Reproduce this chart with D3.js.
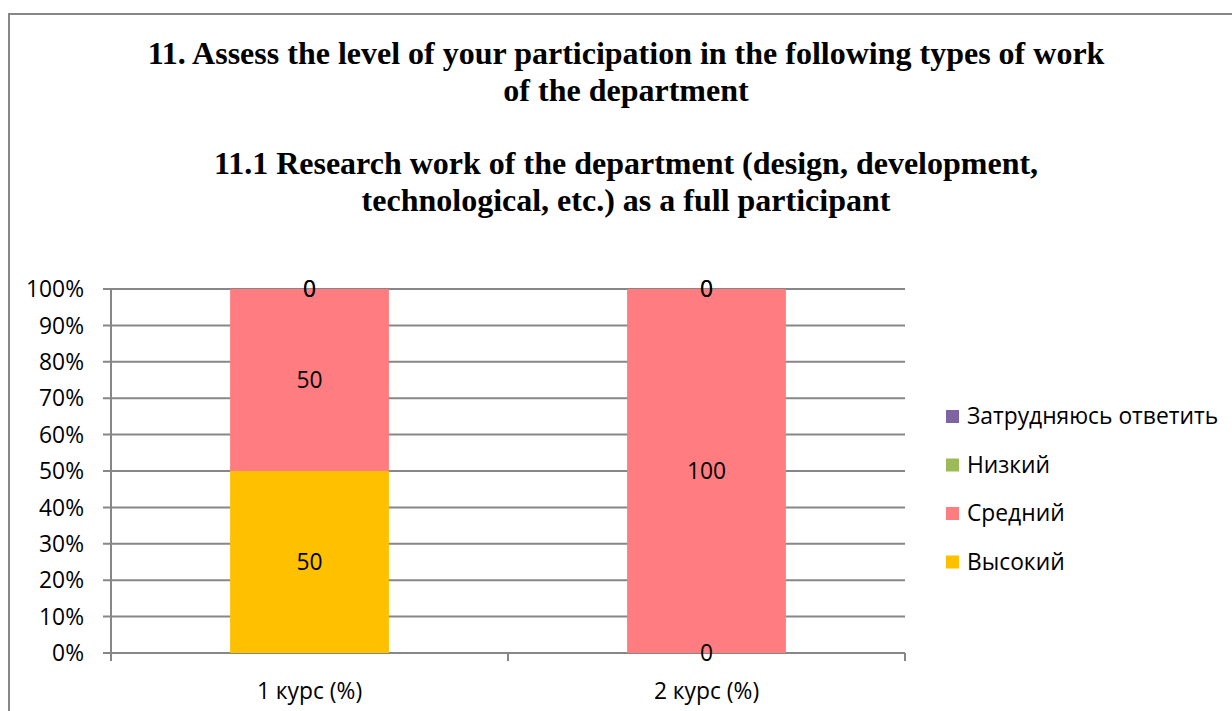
<!DOCTYPE html>
<html>
<head>
<meta charset="utf-8">
<script src="https://cdn.jsdelivr.net/npm/d3@7"></script>
<style>
  body { margin: 0; background: #fff; }
  svg { display: block; }
</style>
</head>
<body>
<svg id="chart" width="1232" height="711"></svg>
<script>
var categories = ["1 курс (%)", "2 курс (%)"];
var seriesNames = ["Высокий", "Средний", "Низкий", "Затрудняюсь ответить"];
var seriesColors = ["#FFC000", "#FF7C80", "#9BBB59", "#8064A2"];
var values = [
  [50, 0],   // Высокий
  [50, 100], // Средний
  [0, 0],    // Низкий
  [0, 0]     // Затрудняюсь ответить
];
var yTicks = [0, 0.1, 0.2, 0.3, 0.4, 0.5, 0.6, 0.7, 0.8, 0.9, 1];
var titleLines = [
  "11. Assess the level of your participation in the following types of work",
  "of the department",
  "",
  "11.1 Research work of the department (design, development,",
  "technological, etc.) as a full participant"
];

var svg = d3.select("#chart");
var width = 1232, height = 711;
var margin = { top: 289, right: 327, bottom: 58, left: 111 };
var plotW = width - margin.left - margin.right;
var plotH = height - margin.top - margin.bottom;
var labelFont = "'Open Sans', 'Noto Sans', sans-serif";
var labelSize = "22.8px";

// outer chart border (runs off the right and bottom edges)
svg.append("rect")
    .attr("x", 9).attr("y", 14)
    .attr("width", 1240).attr("height", 720)
    .attr("fill", "#fff")
    .attr("stroke", "#878787")
    .attr("stroke-width", 2);

// title
svg.append("g").selectAll("text")
    .data(titleLines)
    .enter().append("text")
    .attr("x", 626)
    .attr("y", function(d, i) { return 64 + i * 36.8; })
    .attr("text-anchor", "middle")
    .style("font-family", "'Liberation Serif', 'Times New Roman', serif")
    .style("font-weight", "bold")
    .style("font-size", "32px")
    .text(function(d) { return d; });

var g = svg.append("g").attr("transform", "translate(" + margin.left + "," + margin.top + ")");

var x = d3.scaleBand().domain(categories).range([0, plotW]).paddingInner(0.6).paddingOuter(0.3);
var y = d3.scaleLinear().domain([0, 1]).range([plotH, 0]);

// gridlines + y ticks
g.append("g").selectAll("line")
    .data(yTicks)
    .enter().append("line")
    .attr("x1", -8).attr("x2", plotW)
    .attr("y1", function(d) { return y(d); })
    .attr("y2", function(d) { return y(d); })
    .attr("stroke", "#878787")
    .attr("stroke-width", 2);

// stacked data
var stackData = categories.map(function(c, j) {
  var o = { cat: c };
  seriesNames.forEach(function(s, i) { o[s] = values[i][j]; });
  return o;
});
var stack = d3.stack().keys(seriesNames).offset(d3.stackOffsetExpand);
var layers = stack(stackData);

var layer = g.selectAll(".layer")
    .data(layers)
    .enter().append("g")
    .attr("class", "layer")
    .attr("fill", function(d, i) { return seriesColors[i]; });

layer.selectAll("rect")
    .data(function(d) { return d; })
    .enter().append("rect")
    .attr("x", function(d) { return x(d.data.cat); })
    .attr("width", x.bandwidth())
    .attr("y", function(d) { return y(d[1]); })
    .attr("height", function(d) { return y(d[0]) - y(d[1]); });

// y axis line
g.append("line")
    .attr("x1", 0).attr("x2", 0)
    .attr("y1", 0).attr("y2", plotH + 8)
    .attr("stroke", "#878787").attr("stroke-width", 2);

// x axis ticks at category boundaries
var step = plotW / categories.length;
g.append("g").selectAll("line")
    .data(d3.range(categories.length + 1))
    .enter().append("line")
    .attr("x1", function(d) { return d * step; })
    .attr("x2", function(d) { return d * step; })
    .attr("y1", plotH).attr("y2", plotH + 8)
    .attr("stroke", "#878787").attr("stroke-width", 2);

// y tick labels
g.append("g").selectAll("text")
    .data(yTicks)
    .enter().append("text")
    .attr("x", -27)
    .attr("y", function(d) { return y(d); })
    .attr("dy", "0.36em")
    .attr("text-anchor", "end")
    .style("font-family", labelFont)
    .style("font-size", labelSize)
    .text(d3.format(".0%"));

// x labels
g.append("g").selectAll("text")
    .data(categories)
    .enter().append("text")
    .attr("x", function(d) { return x(d) + x.bandwidth() / 2; })
    .attr("y", plotH + 38)
    .attr("dy", "0.36em")
    .attr("text-anchor", "middle")
    .style("font-family", labelFont)
    .style("font-size", labelSize)
    .text(function(d) { return d; });

// data labels, drawn after all bars
var labelData = [];
layers.forEach(function(l) {
  l.forEach(function(p) { labelData.push({ p: p, v: p.data[l.key] }); });
});
g.append("g").selectAll("text")
    .data(labelData)
    .enter().append("text")
    .attr("x", function(d) { return x(d.p.data.cat) + x.bandwidth() / 2; })
    .attr("y", function(d) { return (y(d.p[0]) + y(d.p[1])) / 2; })
    .attr("dy", "0.36em")
    .attr("text-anchor", "middle")
    .attr("fill", "#000")
    .style("font-family", labelFont)
    .style("font-size", labelSize)
    .text(function(d) { return d.v; });

// legend
var legendOrder = [3, 2, 1, 0];
var legend = svg.append("g").selectAll("g")
    .data(legendOrder)
    .enter().append("g")
    .attr("transform", function(d, i) { return "translate(946," + (416 + i * 48.5) + ")"; });
legend.append("rect")
    .attr("x", 0).attr("y", -6)
    .attr("width", 13).attr("height", 13)
    .attr("fill", function(d) { return seriesColors[d]; });
legend.append("text")
    .attr("x", 21).attr("y", 0)
    .attr("dy", "0.36em")
    .style("font-family", labelFont)
    .style("font-size", labelSize)
    .text(function(d) { return seriesNames[d]; });
</script>
</body>
</html>
